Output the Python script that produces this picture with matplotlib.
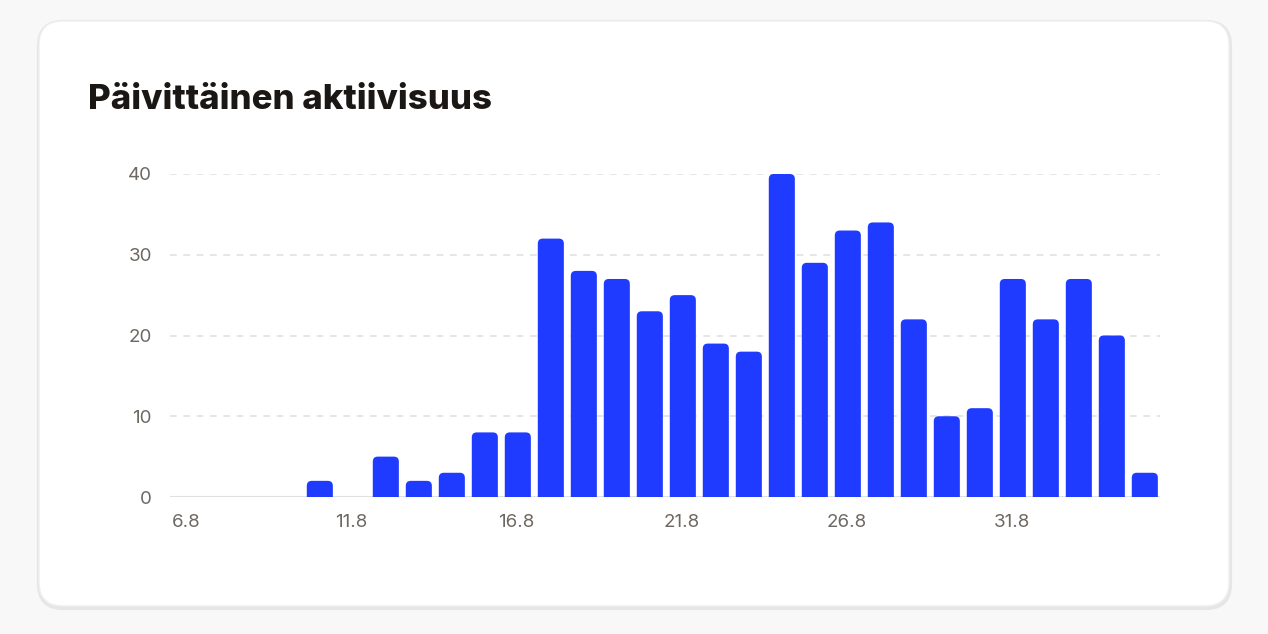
import matplotlib.pyplot as plt
from matplotlib.path import Path
from matplotlib.patches import PathPatch, FancyBboxPatch

# data
days = ["6.8", "7.8", "8.8", "9.8", "10.8", "11.8", "12.8", "13.8", "14.8", "15.8",
        "16.8", "17.8", "18.8", "19.8", "20.8", "21.8", "22.8", "23.8", "24.8", "25.8",
        "26.8", "27.8", "28.8", "29.8", "30.8", "31.8", "32.8", "33.8", "34.8", "35.8"]
counts = [0, 0, 0, 0, 2, 0, 5, 2, 3, 8,
          8, 32, 28, 27, 23, 25, 19, 18, 40, 29,
          33, 34, 22, 10, 11, 27, 22, 27, 20, 3]
y_ticks = [0, 10, 20, 30, 40]
title = "Päivittäinen aktiivisuus"

BAR = "#1f3bff"
W, H = 1268, 634

fig = plt.figure(figsize=(W / 100, H / 100), dpi=100)
fig.patch.set_facecolor("#f8f8f8")

# card with soft edge
bg = fig.add_axes([0, 0, 1, 1])
bg.set_xlim(0, W)
bg.set_ylim(H, 0)
bg.axis("off")
bg.add_patch(FancyBboxPatch((39, 22), 1191, 586, boxstyle="round,pad=0,rounding_size=24",
                            facecolor="none", edgecolor="#e6e6e6", linewidth=3))
bg.add_patch(FancyBboxPatch((39, 21), 1190, 585, boxstyle="round,pad=0,rounding_size=24",
                            facecolor="white", edgecolor="#efefef", linewidth=1))
bg.text(88, 100, title, fontsize=25, fontweight=800, family=["Inter", "DejaVu Sans"],
        color="#1a1714", va="center", ha="left")

ax = fig.add_axes([170 / W, (H - 497) / H, 990 / W, (497 - 174) / H])
ax.set_xlim(0, len(days))
ax.set_ylim(0, 40)
ax.set_facecolor("none")


def rounded_bar(x0, width, height, rx, ry):
    # bar with rounded top corners, in data units
    if height <= 0:
        return None
    ry = min(ry, height)
    x1 = x0 + width
    verts = [(x0, 0), (x0, height - ry), (x0, height), (x0 + rx, height),
             (x1 - rx, height), (x1, height), (x1, height - ry), (x1, 0), (x0, 0)]
    codes = [Path.MOVETO, Path.LINETO, Path.CURVE3, Path.CURVE3,
             Path.LINETO, Path.CURVE3, Path.CURVE3, Path.LINETO, Path.CLOSEPOLY]
    return Path(verts, codes)


bar_w = 0.79
px_x = 990 / len(days)
px_y = (497 - 174) / 40
for i, v in enumerate(counts):
    p = rounded_bar(i + (1 - bar_w) / 2 + 0.04, bar_w, v, 5 / px_x, 5 / px_y)
    if p is not None:
        ax.add_patch(PathPatch(p, facecolor=BAR, edgecolor="none", zorder=3))

for s in ax.spines.values():
    s.set_visible(False)
ax.axhline(0, color="#e0e0e0", linewidth=1.5, zorder=2)
for t in y_ticks[1:]:
    ax.axhline(t, color="#e2e2e2", linewidth=1.2, linestyle=(0, (4, 4)), zorder=1)

ax.set_yticks(y_ticks)
ax.set_yticklabels([str(t) for t in y_ticks])
xt = list(range(0, len(days), 5))
ax.set_xticks([i + 0.5 for i in xt])
ax.set_xticklabels([days[i] for i in xt])
ax.tick_params(axis="both", length=0, labelsize=13.5, labelcolor="#6e6863")
ax.tick_params(axis="y", pad=13)
ax.tick_params(axis="x", pad=12)
for lbl in ax.get_xticklabels() + ax.get_yticklabels():
    lbl.set_family(["Inter", "DejaVu Sans"])

fig.savefig("out.png", dpi=100, facecolor=fig.get_facecolor())
